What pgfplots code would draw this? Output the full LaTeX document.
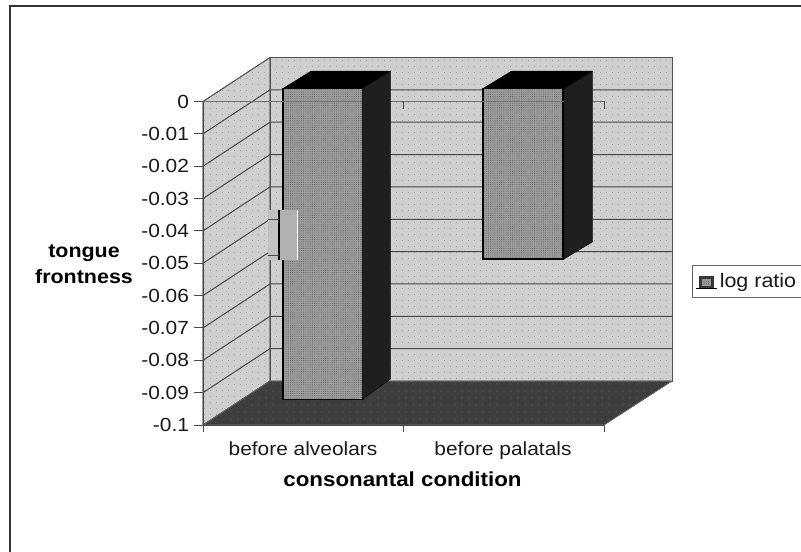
\documentclass[border=0pt]{standalone}
\usepackage{pgfplots}
\pgfplotsset{compat=1.18}
\usepackage{fontspec}
\setmainfont[FakeStretch=1.1]{Liberation Sans}
\usetikzlibrary{patterns.meta}
\definecolor{wallc}{gray}{0.81}
\definecolor{linec}{gray}{0.28}
\tikzset{
  wall/.style={fill=wallc,draw=gray!65!black,line width=0.8bp,
    postaction={pattern={Dots[distance=6bp,radius=0.35bp,xshift=1bp]},pattern color=gray!60!black}},
  floorp/.style={fill=black!76,draw=black!60,line width=0.6bp,
    postaction={pattern={Dots[distance=7bp,radius=0.4bp]},pattern color=gray!75}},
  face/.style={fill=black!38,draw=black,line width=1.3bp,
    postaction={pattern={Dots[distance=2.2bp,radius=0.55bp]},pattern color=black!62}},
  grid3d/.style={draw=linec,line width=1bp},
}
\begin{document}
\begin{tikzpicture}
\useasboundingbox (0,0) rectangle (801bp,552bp);
\draw[line width=2bp,black!80] (9.5bp,-10bp) -- (9.5bp,546.3bp) -- (815bp,546.3bp);
\begin{axis}[
  at={(203bp,127bp)},anchor=south west,
  scale only axis,width=401bp,height=323.5bp,
  xmin=203,xmax=604,ymin=-0.1,ymax=0,clip=false,
  axis x line*=bottom,axis y line*=left,
  axis line style={draw=linec,line width=0.9bp,-},
  tick align=outside,
  major tick length=8.5bp,minor tick length=7bp,
  tick style={draw=linec,line width=0.9bp},
  major x tick style={draw=none},
  xtick={303,503},minor xtick={203,403,604},
  xticklabels={before alveolars,before palatals},
  ytick={0,-0.01,-0.02,-0.03,-0.04,-0.05,-0.06,-0.07,-0.08,-0.09,-0.1},
  yticklabels={0,-0.01,-0.02,-0.03,-0.04,-0.05,-0.06,-0.07,-0.08,-0.09,-0.1},
  tick label style={font=\fontsize{19bp}{22bp}\selectfont,text=black!90},
  yticklabel style={xshift=-2bp},
  xticklabel style={yshift=-5bp},
  every axis x label/.style={at={(axis cs:402.5,-0.1169)},anchor=center,font=\fontsize{20.3bp}{23bp}\selectfont\bfseries,text=black},
  every axis y label/.style={at={(axis cs:84,-0.0502)},anchor=center,align=center,font=\fontsize{19.5bp}{26bp}\selectfont\bfseries,text=black},
  xlabel={consonantal condition},
  ylabel={tongue\\frontness},
  legend style={at={(axis cs:692,-0.05054)},anchor=north west,draw=black!60,line width=1bp,
    font=\fontsize{19.5bp}{22bp}\selectfont,text=black!90,inner xsep=3bp,inner ysep=6bp},
  legend cell align=left,
]
% left wall, back wall, floor
\addplot[wall,forget plot] coordinates {(203,0) (270,0.0136) (270,-0.0864) (203,-0.1) (203,0)};
\addplot[wall,forget plot] coordinates {(270,0.0136) (672,0.0136) (672,-0.0864) (270,-0.0864) (270,0.0136)};
\addplot[floorp,forget plot] coordinates {(203,-0.1) (604,-0.1) (672,-0.0864) (270,-0.0864) (203,-0.1)};
% gridlines on the walls
\addplot[grid3d,forget plot] coordinates {(203,-0.01) (270,0.0036) (672,0.0036)};
\addplot[grid3d,forget plot] coordinates {(203,-0.02) (270,-0.0064) (672,-0.0064)};
\addplot[grid3d,forget plot] coordinates {(203,-0.03) (270,-0.0164) (672,-0.0164)};
\addplot[grid3d,forget plot] coordinates {(203,-0.04) (270,-0.0264) (672,-0.0264)};
\addplot[grid3d,forget plot] coordinates {(203,-0.05) (270,-0.0364) (672,-0.0364)};
\addplot[grid3d,forget plot] coordinates {(203,-0.06) (270,-0.0464) (672,-0.0464)};
\addplot[grid3d,forget plot] coordinates {(203,-0.07) (270,-0.0564) (672,-0.0564)};
\addplot[grid3d,forget plot] coordinates {(203,-0.08) (270,-0.0664) (672,-0.0664)};
\addplot[grid3d,forget plot] coordinates {(203,-0.09) (270,-0.0764) (672,-0.0764)};
\addplot[draw=linec,line width=0.9bp,forget plot] coordinates {(203,0) (203,-0.1) (604,-0.1)};
% bars: front faces, from the values
\addplot[ybar,bar width=80,bar shift=20,yshift=13bp,face,area legend,
  legend image code/.code={
    \draw[fill=black!80,draw=black!80,line width=1bp] (3bp,-20bp) rectangle (17bp,-8bp);
    \fill[black!40] (6bp,-17bp) rectangle (14bp,-11bp);
    \path (0bp,-20bp) -- (21bp,-20bp);}]
  coordinates {(303,-0.0961) (503,-0.0527)};
\addlegendentry{log ratio\hspace*{10bp}}
% zero line and its ticks
\addplot[draw=black!55,line width=0.9bp,forget plot] coordinates {(203,0) (604,0)};
\addplot[draw=linec,line width=0.9bp,forget plot] coordinates {(403,0) (403,-0.0022)};
\addplot[draw=linec,line width=0.9bp,forget plot] coordinates {(604,0) (604,-0.0022)};
% tops and sides of the bars
\addplot[fill=black,draw=black,forget plot] coordinates {(283,0.004) (362,0.004) (390.5,0.0094) (311,0.0094) (283,0.004)};
\addplot[fill=black!88,draw=black,forget plot] coordinates {(362,0.004) (390.5,0.0094) (390.5,-0.0858) (362,-0.0921) (362,0.004)};
\addplot[fill=black,draw=black,forget plot] coordinates {(483,0.004) (564,0.004) (592.5,0.0094) (511.5,0.0094) (483,0.004)};
\addplot[fill=black!88,draw=black,forget plot] coordinates {(564,0.004) (592.5,0.0094) (592.5,-0.0434) (564,-0.0487) (564,0.004)};
% pasted strip on the first bar
\addplot[fill=black!22,draw=none,forget plot,postaction={pattern={Dots[distance=2bp,radius=0.4bp]},pattern color=black!50}] coordinates {(268,-0.0335) (279,-0.0335) (279,-0.049) (268,-0.049) (268,-0.0335)};
\addplot[fill=black!28,draw=none,forget plot,postaction={pattern={Dots[distance=2bp,radius=0.45bp]},pattern color=black!60}] coordinates {(279,-0.0335) (297,-0.0335) (297,-0.049) (279,-0.049) (279,-0.0335)};
\addplot[draw=black,line width=1.6bp,forget plot] coordinates {(279,-0.0335) (279,-0.049)};
\addplot[draw=white,line width=1.6bp,forget plot] coordinates {(297.5,-0.0335) (297.5,-0.049)};
\addplot[draw=linec,line width=0.9bp,forget plot] coordinates {(268,-0.0365) (279,-0.0365)};
\addplot[draw=linec,line width=0.9bp,forget plot] coordinates {(268,-0.0475) (279,-0.0475)};
\end{axis}
\end{tikzpicture}
\end{document}
